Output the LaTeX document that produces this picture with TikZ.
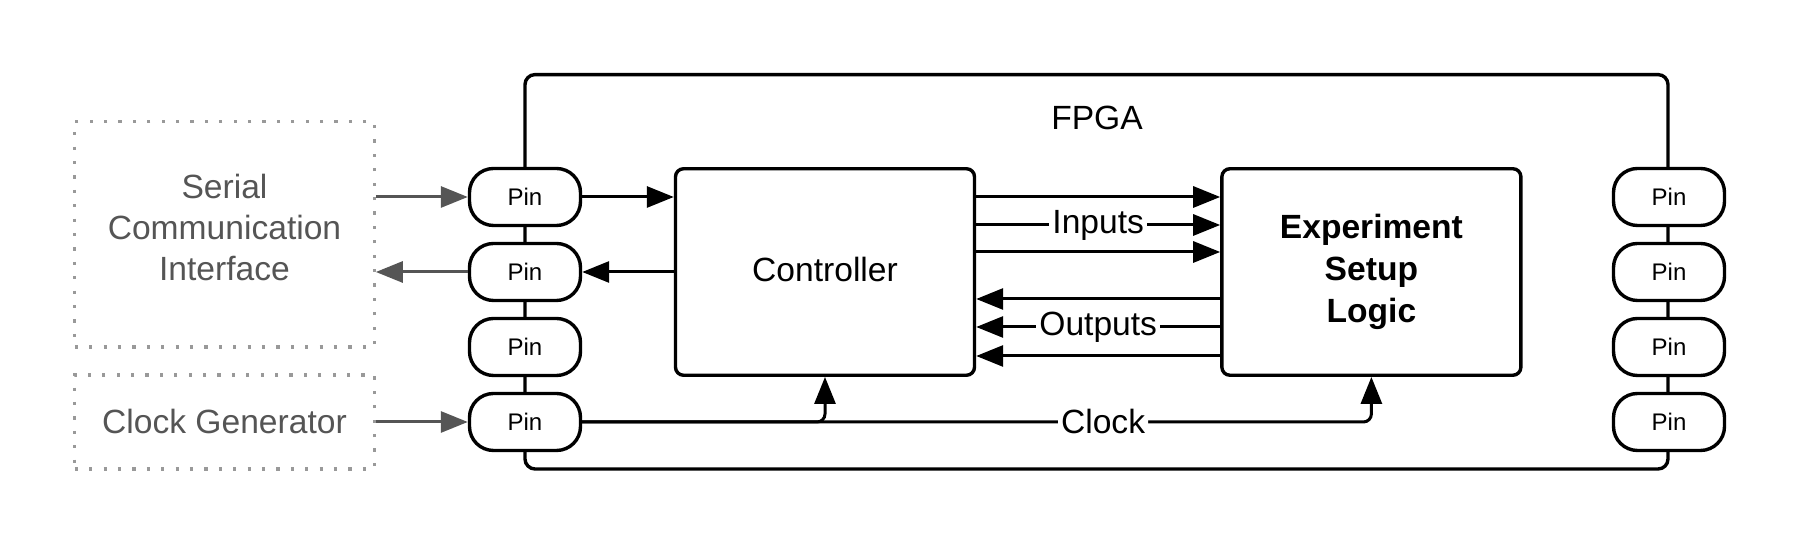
\documentclass[tikz,border=0pt]{standalone}
\usepackage{fontspec}
\setmainfont{Liberation Sans}
\usetikzlibrary{arrows.meta,positioning}
\definecolor{extgray}{HTML}{555555}
\definecolor{dotgray}{HTML}{999999}
\tikzstyle{block} = [rectangle, draw, line width=1.7pt, rounded corners=4pt,
    minimum width=149.5pt, minimum height=103.25pt, align=center]
\tikzstyle{pinbox} = [rectangle, rounded corners=12pt, draw, fill=white,
    line width=1.7pt, minimum width=55.5pt, minimum height=28.5pt, inner sep=0pt,
    font=\fontsize{12}{14}\selectfont, on grid]
\tikzstyle{extbox} = [rectangle, draw=dotgray, line width=1.6pt, dash pattern=on 1.6pt off 5.6pt,
    text=extgray, minimum width=149.75pt, align=center]
\tikzstyle{line} = [draw, line width=1.5pt, -{Triangle[length=13.5pt,width=10.5pt]}]
\tikzstyle{extline} = [line, extgray]
\tikzstyle{tag} = [fill=white, inner sep=1.5pt]

\begin{document}
\begin{tikzpicture}[x=0.5pt, y=0.5pt, node distance=37.5pt, font=\fontsize{16.8}{20.5}\selectfont]
  \useasboundingbox (0,0) rectangle (1800,544);
   % Place nodes
    \node [rectangle, draw, line width=1.7pt, rounded corners=5pt, minimum width=571.5pt,
      minimum height=197.2pt] (fpga) at (1096.5,272.2) {};
    \node (fpgatitle) at (1097,426) {FPGA};
    \node [block, text depth=3pt] (ctrl) at (825,272) {Controller};
    \node [block, right=122pt of ctrl, font=\fontsize{16.8}{21}\selectfont\bfseries] (esl) {Experiment\\Setup\\Logic};
    \node [pinbox] (pinL1) at (525,347) {Pin};
    \node [pinbox, below=of pinL1] (pinL2) {Pin};
    \node [pinbox, below=of pinL2] (pinL3) {Pin};
    \node [pinbox, below=of pinL3] (pinL4) {Pin};
    \node [pinbox] (pinR1) at (1669,347) {Pin};
    \node [pinbox, below=of pinR1] (pinR2) {Pin};
    \node [pinbox, below=of pinR2] (pinR3) {Pin};
    \node [pinbox, below=of pinR3] (pinR4) {Pin};
    \node [extbox, minimum height=112.75pt, text depth=7pt] (sci) at (224.5,309.7) {Serial\\Communication\\Interface};
    \node [extbox, minimum height=47pt] (clkgen) at (224.5,122) {Clock Generator};
   % Draw edges
    \path [extline] (sci.east |- pinL1) -- (pinL1);
    \path [line] (pinL1) -- (pinL1 -| ctrl.west);
    \path [line] (ctrl.west |- pinL2) -- (pinL2);
    \path [extline] (pinL2) -- (pinL2 -| sci.east);
    \path [extline] (clkgen) -- (pinL4);
    \path [line] ([yshift=37.5pt]ctrl.east) -- ([yshift=37.5pt]esl.west);
    \path [line] ([yshift=23.5pt]ctrl.east) -- node [tag] {Inputs} ([yshift=23.5pt]esl.west);
    \path [line] ([yshift=10pt]ctrl.east) -- ([yshift=10pt]esl.west);
    \path [line] ([yshift=-13.5pt]esl.west) -- ([yshift=-13.5pt]ctrl.east);
    \path [line] ([yshift=-27.5pt]esl.west) -- node [tag] {Outputs} ([yshift=-27.5pt]ctrl.east);
    \path [line] ([yshift=-42pt]esl.west) -- ([yshift=-42pt]ctrl.east);
    \path [line, rounded corners=4pt] (pinL4) -| (ctrl.south);
    \path [line, rounded corners=4pt] (pinL4) -| node [tag, pos=0.33] {Clock} (esl.south);
\end{tikzpicture}
\end{document}
